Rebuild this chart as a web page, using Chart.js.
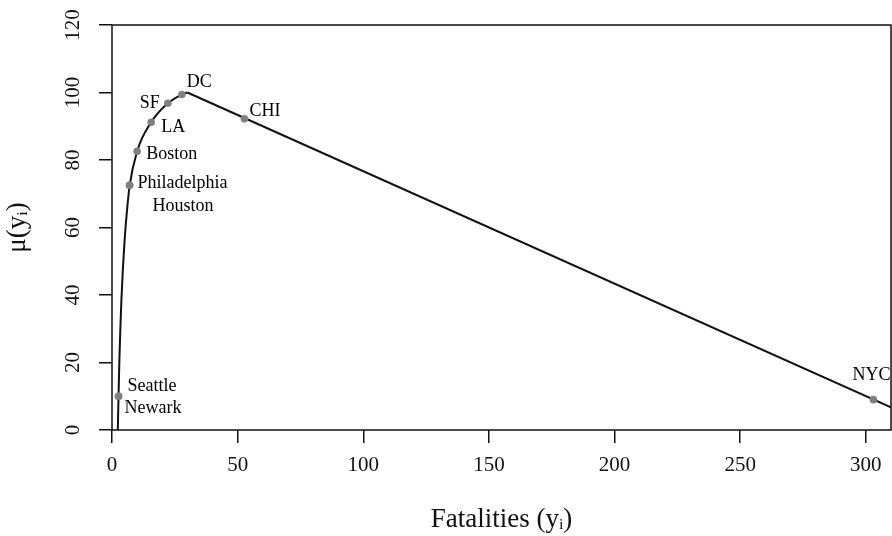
<!DOCTYPE html>
<html><head><meta charset="utf-8">
<script src="https://cdn.jsdelivr.net/npm/chart.js@4/dist/chart.umd.min.js"></script>
<style>html,body{margin:0;padding:0;background:#fff}#wrap{width:892px;height:536px}</style>
</head><body><div id="wrap"><canvas id="c" width="892" height="536"></canvas></div>
<script>
// ---- data ----
const xTickValues = [0, 50, 100, 150, 200, 250, 300];
const yTickValues = [0, 20, 40, 60, 80, 100, 120];
const curveFatalities = [2.31, 2.59, 2.94, 3.30, 3.74, 4.30, 5.01, 5.97, 7.04, 10.0, 15.6, 22.2, 27.8, 30];
const curveMu         = [0, 9.8, 20.7, 29.6, 38.5, 47.3, 56.2, 65.1, 72.5, 82.6, 91.2, 96.8, 99.4, 100];
const lineFatalities  = [30, 310];
const lineMu          = [100, 6.7];
const cityNames       = ['Seattle', 'Newark', 'Philadelphia', 'Houston', 'Boston', 'LA', 'SF', 'DC', 'CHI', 'NYC'];
const cityFatalities  = [2.6, 2.6, 7.0, 7.0, 10.0, 15.6, 22.2, 27.8, 52.7, 303];
const cityMu          = [10, 10, 72.5, 72.5, 82.6, 91.2, 96.8, 99.4, 92.2, 9.0];
const xTitle = 'Fatalities (yᵢ)';
const yTitle = 'μ(yᵢ)';

// ---- styling ----
const SERIF = "'Liberation Serif', 'DejaVu Serif', serif";
const INK = '#111';
const labelStyle = { // offsets in px from the marker, alignment
  Seattle: [9, -10, 'left'], Newark: [6, 12, 'left'],
  Philadelphia: [8, -2, 'left'], Houston: [23, 21, 'left'],
  Boston: [9, 3, 'left'], LA: [10, 5, 'left'], SF: [-8, 0, 'right'],
  DC: [5, -12, 'left'], CHI: [5, -8, 'left'], NYC: [-2, -24, 'center']
};

const toPts = (xs, ys) => xs.map((x, i) => ({x, y: ys[i]}));

const boxPlugin = {
  id: 'box',
  beforeDatasetsDraw(chart) {
    const {ctx, chartArea: a} = chart;
    ctx.save();
    ctx.strokeStyle = INK; ctx.lineWidth = 1.5;
    ctx.strokeRect(a.left, a.top, a.right - a.left, a.bottom - a.top);
    ctx.restore();
  }
};
const cityLabels = {
  id: 'cityLabels',
  afterDatasetsDraw(chart) {
    const {ctx, scales: {x, y}} = chart;
    ctx.save();
    ctx.font = "18px " + SERIF;
    ctx.fillStyle = '#000';
    ctx.textBaseline = 'middle';
    cityNames.forEach((n, i) => {
      const s = labelStyle[n];
      const px = x.getPixelForValue(cityFatalities[i]);
      const py = y.getPixelForValue(cityMu[i]);
      ctx.textAlign = s[2];
      ctx.fillText(n, px + s[0], py + s[1]);
    });
    ctx.restore();
  }
};

new Chart(document.getElementById('c'), {
  type: 'scatter',
  data: {
    datasets: [
      { data: toPts(curveFatalities, curveMu), showLine: true, borderColor: INK, borderWidth: 2,
        pointRadius: 0, cubicInterpolationMode: 'monotone', order: 2 },
      { data: toPts(lineFatalities, lineMu), showLine: true, borderColor: INK, borderWidth: 2,
        pointRadius: 0, order: 2 },
      { data: toPts(cityFatalities, cityMu), showLine: false, pointRadius: 3.8,
        pointBackgroundColor: '#808080', pointBorderColor: '#808080', pointBorderWidth: 0, order: 1 }
    ]
  },
  options: {
    responsive: false, animation: false, devicePixelRatio: 1,
    layout: { autoPadding: false, padding: { top: 25, right: 1, left: 0, bottom: 0 } },
    plugins: { legend: { display: false }, tooltip: { enabled: false } },
    scales: {
      x: {
        type: 'linear', min: 0, max: 310,
        afterBuildTicks: s => { s.ticks = xTickValues.map(v => ({value: v})); },
        afterFit: s => { s.height = 106; s.paddingRight = 0; s.paddingLeft = 0; },
        border: { display: false },
        grid: { drawOnChartArea: false, drawTicks: true, tickLength: 13, color: INK, lineWidth: 1.5 },
        ticks: { font: { family: SERIF, size: 21 }, color: INK, padding: 10, maxRotation: 0 },
        title: { display: true, text: xTitle, font: { family: SERIF, size: 27 }, color: INK, padding: { top: 0, bottom: 0 } }
      },
      y: {
        type: 'linear', min: 0, max: 120,
        afterBuildTicks: s => { s.ticks = yTickValues.map(v => ({value: v})); },
        afterFit: s => { s.width = 112; },
        border: { display: false },
        grid: { drawOnChartArea: false, drawTicks: true, tickLength: 13, color: INK, lineWidth: 1.5 },
        ticks: { font: { family: SERIF, size: 21 }, color: INK, padding: 10, minRotation: 90, maxRotation: 90, crossAlign: 'center' },
        title: { display: true, text: yTitle, font: { family: SERIF, size: 27 }, color: INK, padding: { top: 2, bottom: 0 } }
      }
    }
  },
  plugins: [boxPlugin, cityLabels]
});
</script></body></html>
